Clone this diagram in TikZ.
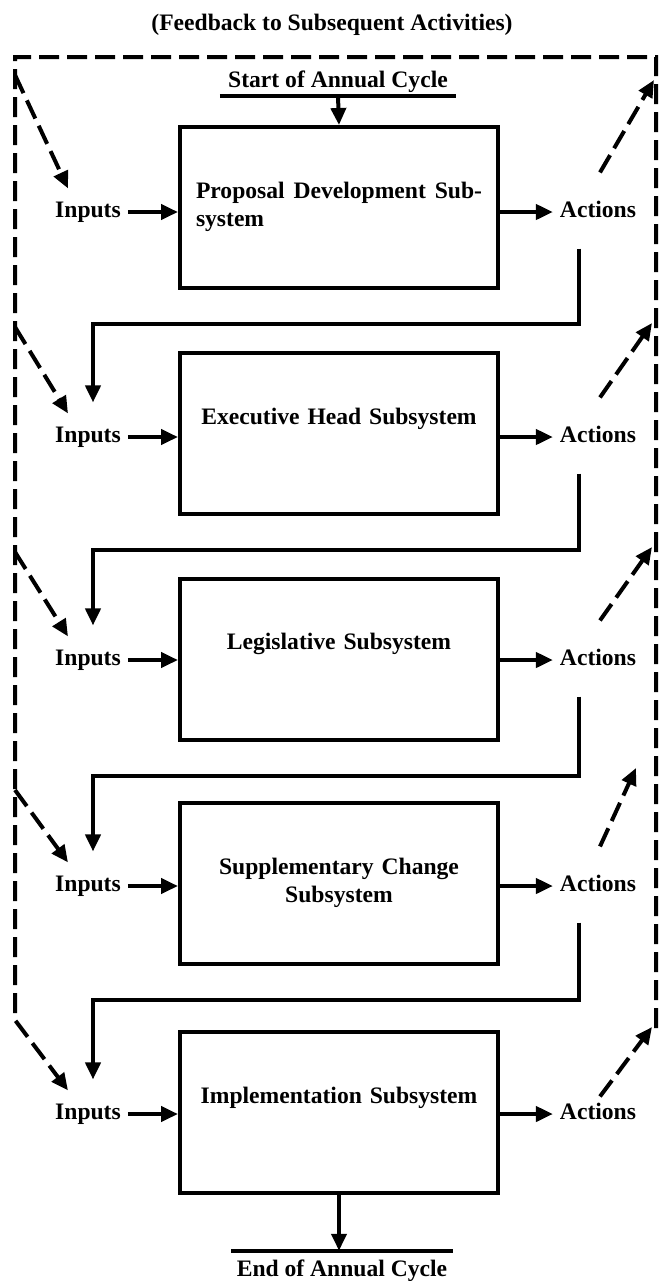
\documentclass[tikz,border=0pt]{standalone}
\usepackage{fontspec}
\setmainfont{Liberation Serif}
\usetikzlibrary{arrows.meta}

\begin{document}
\begin{tikzpicture}[x=0.5pt,y=-0.5pt,>={Triangle[length=8.5pt,width=7.5pt]},
  every node/.style={font=\fontsize{11.8}{14}\selectfont\bfseries},
  subsys/.style={draw,line width=2pt,minimum width=159pt,minimum height=80.5pt},
  boxtext/.style={anchor=north,text width=143pt,align=center},
  tag/.style={text height=8pt,text depth=2.5pt},
  flow/.style={->,line width=2pt},
  feedback/.style={line width=2pt,dash pattern=on 10pt off 4pt}]
  \useasboundingbox (0,0) rectangle (659,1281);
  \node (title) at (332,25) {(Feedback to Subsequent Activities)};
  \node[inner xsep=4pt,inner ysep=1.5pt] (cyclestart) at (338,82) {Start of Annual Cycle};
  \draw[line width=1.8pt] (cyclestart.south west) -- (cyclestart.south east);

  \node[subsys] (pd) at (339,207.5) {};
  \node[subsys] (eh) at (339,433.5) {};
  \node[subsys] (leg) at (339,659) {};
  \node[subsys] (sup) at (339,883.5) {};
  \node[subsys] (imp) at (339,1112.5) {};
  \node[boxtext,align=left] (pdtext) at ([yshift=-25pt]pd.north)
    {Proposal\hfill Development\hfill Sub-\\system};
  \node[boxtext] (ehtext) at ([yshift=-25pt]eh.north) {Executive Head Subsystem};
  \node[boxtext] (legtext) at ([yshift=-25pt]leg.north) {Legislative Subsystem};
  \node[boxtext] (suptext) at ([yshift=-25pt]sup.north) {Supplementary Change\\Subsystem};
  \node[boxtext] (imptext) at ([yshift=-25pt]imp.north) {Implementation Subsystem};

  \node[inner xsep=2.5pt,inner ysep=4.5pt] (cycleend) at (342,1271) {End of Annual Cycle};
  \draw[line width=1.8pt] (cycleend.north west) -- (cycleend.north east);
  \draw[flow] (cyclestart.south) -- (pd.north);
  \draw[flow] (imp.south) -- (imp.south |- cycleend.north);

  \foreach \i/\b/\y in {1/pd/212,2/eh/437,3/leg/660,4/sup/886,5/imp/1114}{
    \node[tag] (in\i) at (88,\y) {Inputs};
    \node[tag] (act\i) at (598,\y) {Actions};
    \draw[flow] (in\i.east) -- (in\i.east -| \b.west);
    \draw[flow] (\b.east |- act\i.west) -- (act\i.west);
  }
  \foreach \i/\j/\b in {1/2/pd,2/3/eh,3/4/leg,4/5/sup}
    \draw[flow,shorten >=8.5pt] ([xshift=-9.5pt,yshift=-9.5pt]act\i.south)
      |- ([yshift=-17pt]\b.south) -| ([xshift=2.5pt]in\j.north);

  \coordinate (nw) at (15,57);
  \coordinate (ne) at (656,57);
  \coordinate (sw) at (15,1020);
  \coordinate (se) at (656,1028);
  \draw[feedback,->] (se) -- (ne) -- (nw) -- (sw) -- ([xshift=-10pt,yshift=3pt]in5.north);
  \foreach \i/\s in {1/75,2/327,3/552,4/790}
    \draw[feedback,->] (15,\s) -- ([xshift=-10pt,yshift=3pt]in\i.north);
  \foreach \i/\u/\tx/\ty in {1/11/654/80,2/11/652/323,3/11/652/547,4/11/636/768,5/0/652/1027}
    \draw[feedback,->] ([xshift=1pt,yshift=\u pt]act\i.north) -- (\tx,\ty);
\end{tikzpicture}
\end{document}
